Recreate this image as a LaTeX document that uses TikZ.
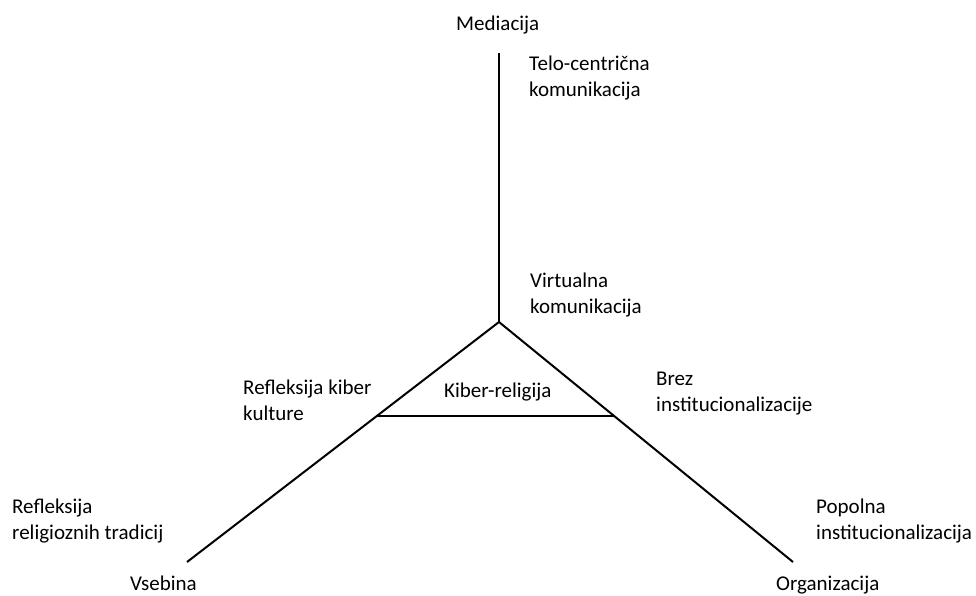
\documentclass[tikz,border=0pt]{standalone}
\usepackage{fontspec}
\setmainfont{Carlito}
\usetikzlibrary{calc}

\begin{document}
\begin{tikzpicture}[
  x=1pt,y=-1pt,
  axis/.style={draw=black,line width=2pt},
  pole/.style={font=\fontsize{21}{26}\selectfont,inner sep=0pt,anchor=base west},
  side/.style={font=\fontsize{21}{26}\selectfont,inner sep=0pt,anchor=base west,align=left}
]
  \useasboundingbox (0,0) rectangle (976,595);

  \coordinate (top) at (499,53);
  \coordinate (apex) at (499,322);
  \coordinate (leftend) at (187,562);
  \coordinate (rightend) at (793,562);
  \coordinate (leftcut) at ($(apex)!0.392!(leftend)$);
  \coordinate (rightcut) at ($(apex)!0.392!(rightend)$);

  \draw[axis] (top) -- (apex);
  \draw[axis] (apex) -- (leftend);
  \draw[axis] (apex) -- (rightend);
  \draw[axis] (leftcut) -- (rightcut);

  % poles
  \node[pole] (mediacija) at (456,30) {Mediacija};
  \node[pole] (vsebina) at (130,590) {Vsebina};
  \node[pole] (organizacija) at (776,590) {Organizacija};
  \node[pole] (kiber) at (444,397) {Kiber-religija};

  % labels along the axes (base = last line)
  \node[side] (telo) at (529,96) {Telo-centrična\\komunikacija};
  \node[side] (virtualna) at (530,313) {Virtualna\\komunikacija};
  \node[side] (refkiber) at (243,420) {Refleksija kiber\\kulture};
  \node[side] (brez) at (656,411) {Brez\\institucionalizacije};
  \node[side] (reftrad) at (12,539) {Refleksija\\religioznih tradicij};
  \node[side] (popolna) at (816,539) {Popolna\\institucionalizacija};
\end{tikzpicture}
\end{document}
